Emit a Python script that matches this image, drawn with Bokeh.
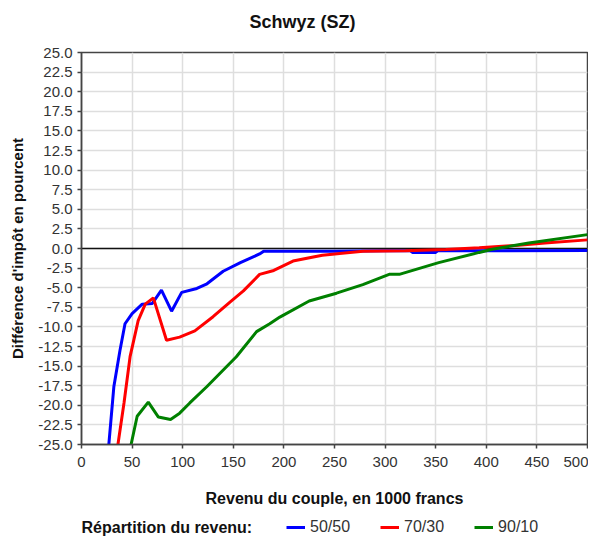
from bokeh.plotting import figure
from bokeh.layouts import column
from bokeh.models import Range1d, FixedTicker, NumeralTickFormatter, Span, Legend, LegendItem, Label
from bokeh.embed import file_html
from bokeh.resources import INLINE

# ---- data ----
x_ticks = [0, 50, 100, 150, 200, 250, 300, 350, 400, 450, 500]
y_ticks = [-25, -22.5, -20, -17.5, -15, -12.5, -10, -7.5, -5, -2.5, 0,
           2.5, 5, 7.5, 10, 12.5, 15, 17.5, 20, 22.5, 25]

series_names = ["50/50", "70/30", "90/10"]

x_5050 = [27, 32, 38, 43, 50, 60, 70, 79, 89, 99, 114, 124, 140, 157, 176, 180,
          250, 300, 325, 327, 350, 352, 400, 500]
y_5050 = [-25, -17.6, -13.0, -9.6, -8.3, -7.1, -7.0, -5.3, -8.0, -5.6, -5.1, -4.5,
          -2.9, -1.8, -0.7, -0.35, -0.35, -0.3, -0.3, -0.5, -0.5, -0.3, -0.3, -0.25]

x_7030 = [36, 42, 48, 56, 63, 71, 84, 97, 112, 130, 147, 160, 176, 190, 209, 238,
          278, 320, 360, 393, 432, 458, 500]
y_7030 = [-25, -19.7, -13.8, -9.2, -7.1, -6.3, -11.7, -11.3, -10.5, -8.7, -6.8,
          -5.4, -3.3, -2.8, -1.6, -0.85, -0.35, -0.3, -0.13, 0.1, 0.42, 0.7, 1.1]

x_9010 = [49, 55, 66, 76, 88, 97, 107, 124, 153, 173, 186, 196, 225, 252, 278,
          304, 314, 353, 393, 406, 442, 500]
y_9010 = [-25, -21.4, -19.6, -21.5, -21.8, -21.0, -19.7, -17.6, -13.8, -10.6,
          -9.6, -8.75, -6.7, -5.7, -4.6, -3.3, -3.3, -1.8, -0.5, -0.1, 0.7, 1.77]

colors = ["#0000ff", "#ff0000", "#008000"]

FONT = "Liberation Sans"
W = 588
FRAME_L, FRAME_R = 81, 587   # frame edges in canvas pixels (shared by all strips)


def bare_figure(h, y0=0):
    # strip whose data units equal canvas pixels; its frame is aligned with the main frame
    f = figure(width=W, height=h, x_range=Range1d(FRAME_L, FRAME_R), y_range=Range1d(y0, y0 + h),
               output_backend="svg", toolbar_location=None,
               x_axis_location=None, y_axis_location=None,
               min_border_left=0, min_border_right=0, min_border_top=0, min_border_bottom=0)
    f.outline_line_color = None
    f.grid.visible = False
    return f


# ---- title strip ----
p0 = bare_figure(40)
p0.add_layout(Label(x=302, y=19, text="Schwyz (SZ)", text_font=FONT, text_font_size="18px",
                    text_font_style="bold", text_align="center", text_baseline="middle",
                    text_color="#111111"))

# ---- main chart ----
p = figure(width=W, height=470,
           x_range=Range1d(0, 500), y_range=Range1d(-25, 25),
           output_backend="svg", toolbar_location=None,
           min_border_left=FRAME_L, min_border_right=W - FRAME_R,
           min_border_top=12, min_border_bottom=66)

p.outline_line_color = "#444444"
p.outline_line_width = 1.5
p.background_fill_color = "white"

p.xaxis.ticker = FixedTicker(ticks=x_ticks)
p.yaxis.ticker = FixedTicker(ticks=y_ticks)
p.yaxis.formatter = NumeralTickFormatter(format="0.0")
for ax in (p.xaxis, p.yaxis):
    ax.major_label_text_font = FONT
    ax.major_label_text_font_size = "15px"
    ax.major_label_text_color = "#333333"
    ax.major_tick_out = 4
    ax.major_tick_in = 0
    ax.minor_tick_line_color = None
    ax.axis_line_color = "#444444"
    ax.axis_line_width = 1.5
    ax.major_tick_line_color = "#444444"
    ax.major_tick_line_width = 1.5
    ax.axis_label_text_font = FONT
    ax.axis_label_text_font_style = "bold"
    ax.axis_label_text_color = "#111111"

p.xaxis.axis_label = "Revenu du couple, en 1000 francs"
p.xaxis.axis_label_text_font_size = "16px"
p.xaxis.axis_label_standoff = 20
p.xaxis.major_label_standoff = 8

p.yaxis.axis_label = "Différence d'impôt en pourcent"
p.yaxis.axis_label_text_font_size = "15px"
p.yaxis.axis_label_standoff = 9
p.yaxis.major_label_standoff = 5

p.grid.grid_line_color = "#dedede"
p.grid.grid_line_width = 1.5

p.add_layout(Span(location=0, dimension="width", line_color="#111111",
                  line_width=1.5, level="underlay"))

xs = [x_5050, x_7030, x_9010]
ys = [y_5050, y_7030, y_9010]
for xv, yv, c in zip(xs, ys, colors):
    p.line(xv, yv, line_color=c, line_width=3)

# ---- legend strip (its series renderers fall outside its own range, only legend samples show) ----
p2 = bare_figure(28, y0=100)
legend_renderers = [p2.line(xv, yv, line_color=c, line_width=3) for xv, yv, c in zip(xs, ys, colors)]
legend = Legend(items=[LegendItem(label=n, renderers=[r]) for n, r in zip(series_names, legend_renderers)],
                orientation="horizontal", location=(205, 2),
                glyph_width=19, glyph_height=16, label_height=16,
                label_standoff=5, spacing=30, padding=1, margin=0,
                border_line_color=None, background_fill_alpha=0,
                label_text_font=FONT, label_text_font_size="16px",
                label_text_color="#333333")
p2.add_layout(legend, "center")
p2.add_layout(Label(x=FRAME_L, y=111, text="Répartition du revenu:",
                    text_font=FONT, text_font_size="16px", text_font_style="bold",
                    text_baseline="middle", text_align="left", text_color="#111111"))

layout = column(p0, p, p2, spacing=0)
open("out.html", "w").write(file_html(layout, INLINE))
